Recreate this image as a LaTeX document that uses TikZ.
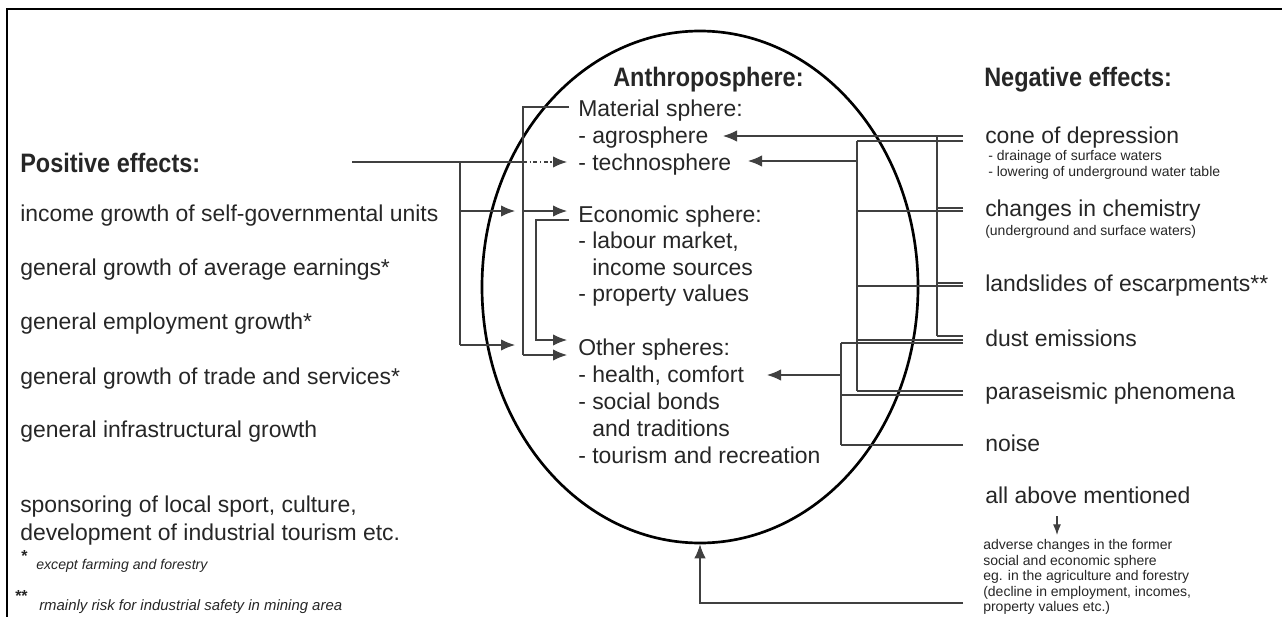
\documentclass[tikz,border=0pt]{standalone}
\usepackage{fontspec}
\setmainfont{Liberation Sans}
\newfontfamily\headfont[FakeStretch=0.88]{Liberation Sans}
\usetikzlibrary{arrows.meta,shapes.geometric}

\tikzset{
  txt/.style={anchor=base west, inner sep=0pt, text=black!85, font=\fontsize{17.2}{21}\selectfont},
  head/.style={txt, font=\headfont\fontsize{20}{24}\selectfont\bfseries},
  note/.style={txt, font=\fontsize{10.5}{12}\selectfont},
  link/.style={line width=0.8pt, draw=black!75},
  arr/.style={link, -{Latex[length=10.5pt,width=8.5pt]}},
}

\begin{document}
\begin{tikzpicture}[x=0.75pt,y=-0.75pt]
\useasboundingbox (0,0) rectangle (1282,617);
% Frame
\draw[line width=1.5pt] (6.5,617) -- (6.5,9.5) -- (1282,9.5);

% Anthroposphere
\node[ellipse, draw, line width=2pt, minimum width=327pt, minimum height=384pt, inner sep=0pt] (anthro) at (700,287) {};
\node[head] (anthrohead) at (613,87) {Anthroposphere:};
\foreach \name/\x/\y/\t in {mat/578/117/Material sphere:, agro/578/143/- agrosphere, techno/578/170/- technosphere,
    eco/578/222/Economic sphere:, lab/578/248/{- labour market,}, inc/592/275/income sources, prop/578/301/- property values,
    oth/578/355/Other spheres:, health/578/382/{- health, comfort}, soc/578/409/- social bonds, trad/592/436/and traditions,
    tour/578/463/- tourism and recreation}
  \node[txt] (\name) at (\x,\y) {\t};

% Positive effects
\node[head] (poshead) at (20,172) {Positive effects:};
\foreach \name/\y/\t in {income/221/income growth of self-governmental units, earn/275/general growth of average earnings*,
    empl/329/general employment growth*, trade/384/general growth of trade and services*,
    infra/437/general infrastructural growth, spons/512/{sponsoring of local sport, culture,},
    devel/540/development of industrial tourism etc.}
  \node[txt] (\name) at (20,\y) {\t};

% Footnotes
\node[note, font=\fontsize{12}{12}\selectfont\bfseries] (star1) at (21,561) {*};
\node[note, font=\fontsize{10.6}{12}\selectfont\itshape] (fn1) at (36,569) {except farming and forestry};
\node[note, font=\fontsize{12}{12}\selectfont\bfseries] (star2) at (15,601) {**};
\node[note, font=\fontsize{11.2}{12}\selectfont\itshape] (fn2) at (39,610) {rmainly risk for industrial safety in mining area};

% Negative effects
\node[head] (neghead) at (984,87) {Negative effects:};
\foreach \name/\y/\t in {cone/143/cone of depression, chem/216/changes in chemistry, land/291/landslides of escarpments**,
    dust/346/dust emissions, para/399/paraseismic phenomena, noise/451/noise, allab/503/all above mentioned}
  \node[txt] (\name) at (985,\y) {\t};
\foreach \name/\x/\y/\t in {drain/988/161/- drainage of surface waters, lower/988/176/- lowering of underground water table,
    under/985/235/(underground and surface waters), adv1/983/549/adverse changes in the former,
    adv2/983/565/social and economic sphere, adv3/983/580/eg. in the agriculture and forestry,
    adv4/983/596/{(decline in employment, incomes,}, adv5/983/611/property values etc.)}
  \node[note] (\name) at (\x,\y) {\t};

% Connectors, positive side
\coordinate (posStart) at (352,162);
\coordinate (posCol) at (460,162);
\coordinate (matCol) at (523,107);
\coordinate (matEnd) at (569,107);
\coordinate (ecoEnd) at (569,220);
\coordinate (ecoTurn) at (536,220);
\coordinate (technoTip) at (567,162);
\coordinate (ecoIn) at (515,211);
\coordinate (othIn) at (515,345);
\coordinate (ecoTip) at (567,211);
\coordinate (othTipA) at (567,340);
\coordinate (othTipB) at (567,355);
\draw[link] (posStart) -- (posStart -| matCol);
\draw[link, dash dot, -{Latex[length=10.5pt,width=8.5pt]}] (posStart -| matCol) -- (technoTip);
\draw[link] (posCol) -- (posCol |- othIn);
\draw[arr] (posCol |- ecoIn) -- (ecoIn);
\draw[arr] (posCol |- othIn) -- (othIn);
\draw[link] (matEnd) -- (matCol) -- (matCol |- othTipB);
\draw[arr] (matCol |- ecoTip) -- (ecoTip);
\draw[arr] (matCol |- othTipB) -- (othTipB);
\draw[arr] (ecoEnd) -- (ecoTurn) -- (ecoTurn |- othTipA) -- (othTipA);

% Connectors, negative side
\coordinate (colA) at (937,136);
\coordinate (colB) at (857,141);
\coordinate (colC) at (841,343);
\coordinate (agroTip) at (723,136);
\coordinate (techTip) at (748,161);
\coordinate (healthTip) at (767,375);
\foreach \y in {136,208,283,336} {
  \coordinate (a\y) at (963,\y);
  \draw[link] (a\y) -- (a\y -| colA);
}
\foreach \y in {141,211,286,340,391} {
  \coordinate (b\y) at (963,\y);
  \draw[link] (b\y) -- (b\y -| colB);
}
\foreach \y in {343,395,445} {
  \coordinate (c\y) at (963,\y);
  \draw[link] (c\y) -- (c\y -| colC);
}
\draw[link] (colA) -- (colA |- a336);
\draw[link] (colB) -- (colB |- b391);
\draw[link] (colC) -- (colC |- c445);
\draw[arr] (colA) -- (agroTip);
\draw[arr] (colB |- techTip) -- (techTip);
\draw[arr] (colC |- healthTip) -- (healthTip);

% Feedback
\coordinate (allTop) at (1057,516);
\coordinate (allDown) at (1057,535);
\draw[link, -{Latex[length=8pt,width=6pt]}] (allTop) -- (allDown);
\coordinate (advEnd) at (963,603);
\draw[arr] (advEnd) -- (advEnd -| anthro.south) -- (anthro.south);
\end{tikzpicture}
\end{document}
